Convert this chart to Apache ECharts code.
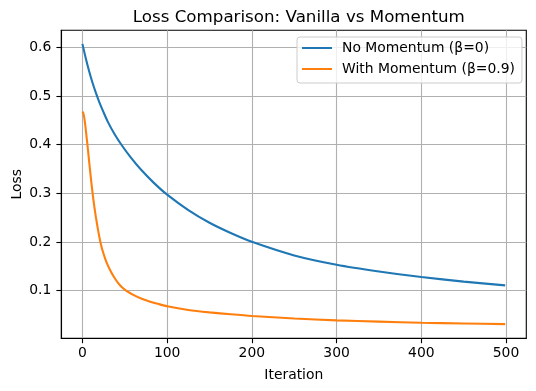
<!DOCTYPE html>
<html>
<head>
<meta charset="utf-8">
<script src="https://cdn.jsdelivr.net/npm/echarts@6/dist/echarts.min.js"></script>
<style>html,body{margin:0;padding:0;background:#fff}#c{width:536px;height:391px}</style>
</head>
<body>
<div id="c"></div>
<script>
const titleText = 'Loss Comparison: Vanilla vs Momentum';
const seriesNames = ['No Momentum (β=0)', 'With Momentum (β=0.9)'];
const xTicks = [0, 100, 200, 300, 400, 500];
const yTicks = [0.1, 0.2, 0.3, 0.4, 0.5, 0.6];

const vanillaIter = [0,4,8,12,16,20,25,30,38,46,57,69,84,100,125,150,175,200,250,300,350,400,450,499];
const vanillaLoss = [0.607,0.577,0.5502,0.5266,0.5058,0.487,0.4662,0.4468,0.4213,0.3998,0.3738,0.3488,0.322,0.2972,0.2655,0.2395,0.2185,0.2005,0.1725,0.1534,0.1395,0.128,0.1187,0.1109];

const momIter = [0,1,2,3,4,5,6,7,8,9,10,11,12,14,16,18,20,22,24,27,30,34,38,42,46,52,60,70,80,90,100,125,150,175,200,250,300,350,400,450,499];
const momLoss = [0.468,0.465,0.457,0.445,0.430,0.414,0.398,0.381,0.364,0.347,0.331,0.315,0.300,0.273,0.250,0.229,0.210,0.194,0.181,0.165,0.152,0.138,0.126,0.116,0.108,0.0995,0.0915,0.0835,0.0775,0.0725,0.068,0.0605,0.0555,0.0515,0.048,0.043,0.039,0.0365,0.0342,0.0327,0.0314];

const pairs = (xs, ys) => xs.map((x, i) => [x, ys[i]]);
const FONT = 'DejaVu Sans';

const chart = echarts.init(document.getElementById('c'), null, {renderer: 'canvas'});
chart.setOption({
  animation: false,
  backgroundColor: '#fff',
  textStyle: {fontFamily: FONT},
  title: {
    text: titleText, left: 293.8, top: 4, textAlign: 'center',
    textStyle: {fontFamily: FONT, fontSize: 16.7, fontWeight: 'normal', color: '#000'}
  },
  legend: {
    orient: 'vertical', left: 297, top: 37,
    padding: [4, 7, 7, 4],
    itemWidth: 30, itemHeight: 14, itemGap: 7,
    itemStyle: {opacity: 0},
    backgroundColor: 'rgba(255,255,255,0.8)',
    borderColor: '#cccccc', borderWidth: 1, borderRadius: 3,
    textStyle: {fontFamily: FONT, fontSize: 13.9, color: '#000', padding: [0, 0, 0, 5], lineHeight: 14},
    data: seriesNames
  },
  grid: {left: 61.3, right: 9.7, top: 30.3, bottom: 52.7, show: true, borderColor: '#000', borderWidth: 1.1, containLabel: false, outerBoundsMode: 'none'},
  xAxis: {
    type: 'value', min: -24.95, max: 523.95,
    name: 'Iteration', nameLocation: 'middle', nameGap: 30, nameMoveOverlap: false,
    nameTextStyle: {fontFamily: FONT, fontSize: 13.9, color: '#000'},
    axisLine: {show: true, onZero: false, lineStyle: {color: '#000', width: 1.1}},
    axisTick: {show: true, inside: false, length: 4.9, lineStyle: {color: '#000', width: 1.1}, customValues: xTicks},
    axisLabel: {fontFamily: FONT, fontSize: 13.9, color: '#000', margin: 8, customValues: xTicks, formatter: v => String(Math.round(v))},
    splitLine: {show: true, lineStyle: {color: '#b0b0b0', width: 1.1}}
  },
  yAxis: {
    type: 'value', min: 0.0022, max: 0.6349,
    name: 'Loss', nameLocation: 'middle', nameGap: 37, nameRotate: 90, nameMoveOverlap: false,
    nameTextStyle: {fontFamily: FONT, fontSize: 13.9, color: '#000'},
    axisLine: {show: true, onZero: false, lineStyle: {color: '#000', width: 1.1}},
    axisTick: {show: true, inside: false, length: 4.9, lineStyle: {color: '#000', width: 1.1}, customValues: yTicks},
    axisLabel: {fontFamily: FONT, fontSize: 13.9, color: '#000', margin: 10, customValues: yTicks, formatter: v => v.toFixed(1)},
    splitLine: {show: true, lineStyle: {color: '#b0b0b0', width: 1.1}}
  },
  series: [
    {name: seriesNames[0], type: 'line', data: pairs(vanillaIter, vanillaLoss), symbol: 'none', smooth: 0.25,
     lineStyle: {color: '#1f77b4', width: 2.1}, itemStyle: {color: '#1f77b4'}},
    {name: seriesNames[1], type: 'line', data: pairs(momIter, momLoss), symbol: 'none', smooth: 0.25,
     lineStyle: {color: '#ff7f0e', width: 2.1}, itemStyle: {color: '#ff7f0e'}}
  ]
});
</script>
</body>
</html>
